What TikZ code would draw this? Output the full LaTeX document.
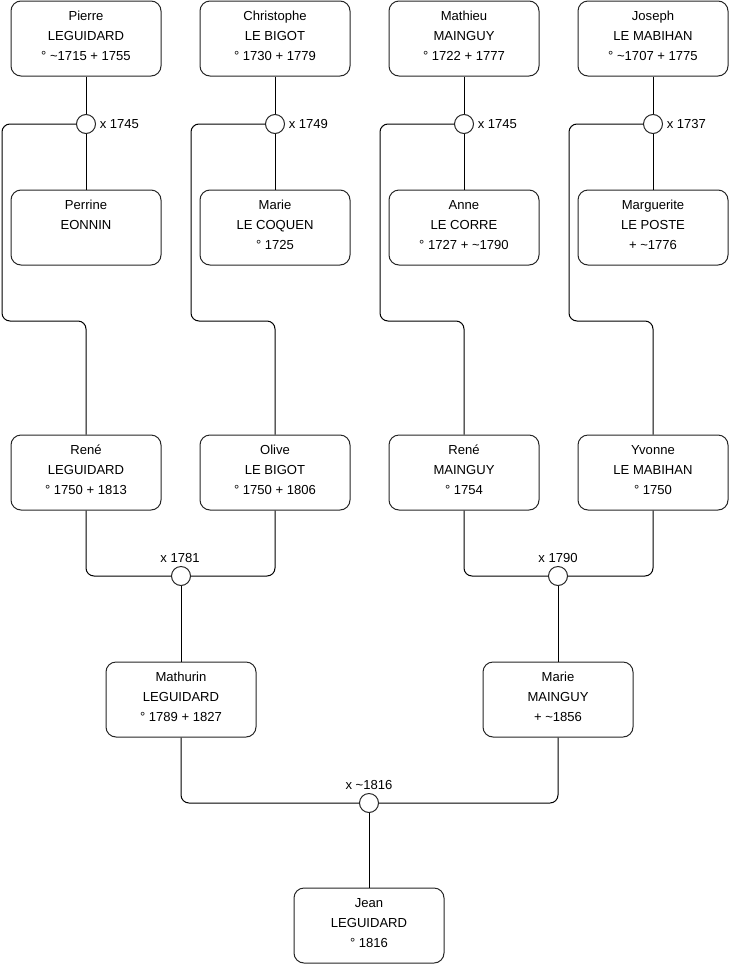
\documentclass[tikz,border=0pt]{standalone}
\usepackage{fontspec}
\setmainfont{Liberation Sans}
\begin{document}
\begin{tikzpicture}[x=0.75pt,y=-0.75pt,
  box/.style={draw=black!85, line width=0.75pt, rounded corners=7.5pt, minimum width=112.5pt, minimum height=56.25pt, inner sep=0pt, fill=white},
  txt/.style={align=center, font=\fontsize{9.8}{15}\selectfont, inner sep=0pt, anchor=base, yshift=-0.75pt},
  wed/.style={circle, draw=black!85, line width=0.75pt, minimum size=14.25pt, inner sep=0pt, fill=white},
  lnk/.style={draw=black, line width=0.75pt, rounded corners=6pt},
  lbl/.style={font=\fontsize{9.8}{11}\selectfont, inner sep=0pt}]
\useasboundingbox (0,0) rectangle (740,975);

\coordinate (c1) at (86,124);
\coordinate (c2) at (275,124);
\coordinate (c3) at (464,124);
\coordinate (c4) at (653,124);

% ---- boxes: row 1 (text anchor = baseline of last line)
\node[box] (pierre) at (86,38.5) {};
\node[txt] (pierreT) at (86,59.5) {Pierre\\LEGUIDARD\\° \textasciitilde 1715 + 1755};
\node[box] (christophe) at (275,38.5) {};
\node[txt] (christopheT) at (275,59.5) {Christophe\\LE BIGOT\\° 1730 + 1779};
\node[box] (mathieu) at (464,38.5) {};
\node[txt] (mathieuT) at (464,59.5) {Mathieu\\MAINGUY\\° 1722 + 1777};
\node[box] (joseph) at (653,38.5) {};
\node[txt] (josephT) at (653,59.5) {Joseph\\LE MABIHAN\\° \textasciitilde 1707 + 1775};

% row 2
\node[box] (perrine) at (86,227.5) {};
\node[txt] (perrineT) at (86,228.5) {Perrine\\EONNIN};
\node[box] (mariec) at (275,227.5) {};
\node[txt] (mariecT) at (275,248.5) {Marie\\LE COQUEN\\° 1725};
\node[box] (anne) at (464,227.5) {};
\node[txt] (anneT) at (464,248.5) {Anne\\LE CORRE\\° 1727 + \textasciitilde 1790};
\node[box] (marguerite) at (653,227.5) {};
\node[txt] (margueriteT) at (653,248.5) {Marguerite\\LE POSTE\\+ \textasciitilde 1776};

% row 3
\node[box] (rene) at (86,472.5) {};
\node[txt] (reneT) at (86,493.5) {René\\LEGUIDARD\\° 1750 + 1813};
\node[box] (olive) at (275,472.5) {};
\node[txt] (oliveT) at (275,493.5) {Olive\\LE BIGOT\\° 1750 + 1806};
\node[box] (renem) at (464,472.5) {};
\node[txt] (renemT) at (464,493.5) {René\\MAINGUY\\° 1754};
\node[box] (yvonne) at (653,472.5) {};
\node[txt] (yvonneT) at (653,493.5) {Yvonne\\LE MABIHAN\\° 1750};

% row 4
\node[box] (mathurin) at (181,699.5) {};
\node[txt] (mathurinT) at (181,720.5) {Mathurin\\LEGUIDARD\\° 1789 + 1827};
\node[box] (marie) at (558,699.5) {};
\node[txt] (marieT) at (558,720.5) {Marie\\MAINGUY\\+ \textasciitilde 1856};

% row 5
\node[box] (jean) at (369,925.5) {};
\node[txt] (jeanT) at (369,946.5) {Jean\\LEGUIDARD\\° 1816};

% ---- marriage circles
\node[wed] (w1) at (c1) {};
\node[wed] (w2) at (c2) {};
\node[wed] (w3) at (c3) {};
\node[wed] (w4) at (c4) {};
\node[wed] (m1) at (181,576) {};
\node[wed] (m2) at (558,576) {};
\node[wed] (m3) at (369,803) {};

% ---- labels
\node[lbl, anchor=west] (l1) at (99.5,124) {x 1745};
\node[lbl, anchor=west] (l2) at (288.5,124) {x 1749};
\node[lbl, anchor=west] (l3) at (477.5,124) {x 1745};
\node[lbl, anchor=west] (l4) at (666.5,124) {x 1737};
\node[lbl] (l5) at (180,558) {x 1781};
\node[lbl] (l6) at (558,558) {x 1790};
\node[lbl] (l7) at (369,785) {x \textasciitilde 1816};

% ---- connectors
\draw[lnk] (pierre.south) -- (w1.north);
\draw[lnk] (w1.south) -- (perrine.north);
\draw[lnk] (christophe.south) -- (w2.north);
\draw[lnk] (w2.south) -- (mariec.north);
\draw[lnk] (mathieu.south) -- (w3.north);
\draw[lnk] (w3.south) -- (anne.north);
\draw[lnk] (joseph.south) -- (w4.north);
\draw[lnk] (w4.south) -- (marguerite.north);

\draw[lnk] (w1.west) -| (2,321) -| (rene.north);
\draw[lnk] (w2.west) -| (191,321) -| (olive.north);
\draw[lnk] (w3.west) -| (380,321) -| (renem.north);
\draw[lnk] (w4.west) -| (569,321) -| (yvonne.north);

\draw[lnk] (rene.south) |- (m1.west);
\draw[lnk] (olive.south) |- (m1.east);
\draw[lnk] (m1.south) -- (mathurin.north);
\draw[lnk] (renem.south) |- (m2.west);
\draw[lnk] (yvonne.south) |- (m2.east);
\draw[lnk] (m2.south) -- (marie.north);

\draw[lnk] (mathurin.south) |- (m3.west);
\draw[lnk] (marie.south) |- (m3.east);
\draw[lnk] (m3.south) -- (jean.north);
\end{tikzpicture}
\end{document}
